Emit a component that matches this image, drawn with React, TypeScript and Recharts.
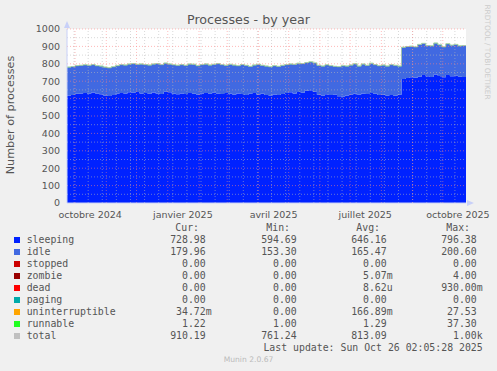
import React from 'react';
import { ComposedChart, Area, Line, XAxis, YAxis, CartesianGrid, ReferenceLine } from 'recharts';

// one sample every 4 days, starting 2024-09-23
const sleeping = [
    618, 620, 628, 630, 632, 628, 635, 630, 625, 618, 615, 620, 628, 632, 630, 636, 634, 638, 630, 632,
    628, 635, 630, 626, 640, 636, 628, 625, 630, 626, 632, 628, 624, 630, 632, 628, 634, 630, 626, 632,
    628, 624, 630, 626, 620, 628, 632, 624, 628, 620, 618, 624, 620, 626, 632, 636, 630, 638, 634, 645,
    648, 640, 622, 618, 625, 620, 624, 614, 612, 618, 622, 628, 624, 630, 626, 632, 628, 620, 622, 618,
    620, 616, 622, 712, 718, 722, 720, 726, 735, 728, 724, 738, 730, 722, 736, 728, 732, 726, 724, 728,
];
const idle = [
    162, 163, 160, 160, 161, 162, 159, 158, 161, 162, 161, 162, 160, 162, 162, 162, 166, 158, 168, 162,
    164, 163, 170, 168, 163, 162, 165, 165, 164, 164, 166, 168, 164, 164, 166, 164, 162, 170, 168, 158,
    168, 168, 158, 168, 170, 156, 160, 172, 162, 166, 164, 164, 164, 164, 162, 162, 166, 164, 166, 161,
    162, 164, 168, 168, 168, 168, 160, 168, 176, 168, 170, 171, 162, 168, 164, 170, 166, 168, 170, 168,
    174, 174, 164, 182, 180, 178, 176, 184, 181, 176, 178, 180, 178, 174, 178, 178, 178, 176, 180, 172,
];
const runnable = [
    1.3, 1.2, 1.4, 1.3, 1.2, 1.3, 1.5, 1.2, 1.3, 1.4, 1.2, 1.3, 1.3, 1.2, 1.4, 1.3, 1.2, 1.3, 1.5, 1.3,
    1.2, 1.3, 1.4, 1.2, 1.3, 1.3, 1.2, 1.4, 1.3, 1.2, 1.3, 1.5, 1.2, 1.3, 1.4, 1.2, 1.3, 1.3, 1.2, 1.4,
    1.3, 1.2, 1.3, 1.5, 1.2, 1.3, 1.4, 1.2, 1.3, 1.3, 1.2, 1.4, 1.3, 1.2, 1.3, 1.5, 1.2, 1.3, 1.4, 1.2,
    1.3, 1.3, 1.2, 1.4, 1.3, 1.2, 1.3, 1.5, 1.2, 1.3, 1.4, 1.2, 1.3, 1.3, 1.2, 1.4, 1.3, 1.2, 1.3, 1.5,
    1.2, 1.3, 1.4, 1.2, 1.3, 1.3, 1.2, 1.4, 1.3, 1.2, 1.3, 1.5, 1.2, 1.3, 1.4, 1.2, 1.3, 1.3, 1.2, 1.2,
];

const seriesNames = ['sleeping', 'idle', 'stopped', 'zombie', 'dead', 'paging', 'uninterruptible', 'runnable', 'total'];
const seriesColors = ['#0022ff', '#4169e1', '#cc0000', '#990000', '#ff0000', '#00aaaa', '#ffa500', '#22ff22', '#c0c0c0'];
const curValues = ['728.98', '179.96', '0.00', '0.00', '0.00', '0.00', '34.72m', '1.22', '910.19'];
const minValues = ['594.69', '153.30', '0.00', '0.00', '0.00', '0.00', '0.00', '1.00', '761.24'];
const avgValues = ['646.16', '165.47', '0.00', '5.07m', '8.62u', '0.00', '166.89m', '1.29', '813.09'];
const maxValues = ['796.38', '200.60', '0.00', '4.00', '930.00m', '0.00', '27.53', '37.30', '1.00k'];
const columnHeads = ['Cur:', 'Min:', 'Avg:', 'Max:'];

const yTicks = [0, 100, 200, 300, 400, 500, 600, 700, 800, 900, 1000];
const xLabels = ['octobre 2024', 'janvier 2025', 'avril 2025', 'juillet 2025', 'octobre 2025'];
const xLabelMonths: [number, number][] = [[2024, 9], [2025, 0], [2025, 3], [2025, 6], [2025, 9]];

const DAY = 86400000;
const START = Date.UTC(2024, 8, 23);
const dayOf = (y: number, m: number, d: number) => Math.round((Date.UTC(y, m, d) - START) / DAY);
const LAST_DAY = (sleeping.length - 1) * 4;

const data = sleeping.map((s, i) => ({
    day: i * 4,
    sleeping: s,
    idle: idle[i],
    runnable: runnable[i],
    total: s + idle[i] + runnable[i],
}));

// grid: red at each month start, grey every two weeks
const monthStarts: number[] = [];
for (let k = 0; k < 14; k++) {
    const d = dayOf(2024, 9 + k, 1);
    if (d <= LAST_DAY) monthStarts.push(d);
}
const weekLines: number[] = [];
for (let d = 7; d <= LAST_DAY; d += 14) weekLines.push(d);

const labelDays = xLabelMonths.map(([y, m]) => dayOf(y, m, 16));
const labelFor = (v: number) => xLabels[labelDays.indexOf(v)] ?? '';

const mono = '"DejaVu Sans Mono", monospace';
const sans = '"DejaVu Sans", sans-serif';
const textGrey = '#555555';
const majorGrid = '#ff8080';
const minorGrid = '#b8b8b8';

const colEdges = [205.7, 296.7, 386.7, 476.7];
const rowY = (r: number) => 239.7 + r * 12;

const ValueCell: React.FC<{ value: string; edge: number; y: number }> = ({ value, edge, y }) => {
    const m = value.match(/^([\d.]+)([a-zA-Z]?)$/);
    const num = m ? m[1] : value;
    const unit = m ? m[2] : '';
    return (
        <>
            <div style={{ position: 'absolute', right: 497 - edge, top: y - 6, lineHeight: '12px', whiteSpace: 'pre' }}>{num}</div>
            {unit && (
                <div style={{ position: 'absolute', left: edge, top: y - 6, lineHeight: '12px' }}>{unit}</div>
            )}
        </>
    );
};

export default function App() {
    const columns = [curValues, minValues, avgValues, maxValues];
    return (
        <div style={{ position: 'absolute', left: 0, top: 0, width: 497, height: 371, background: '#f0f0f0', overflow: 'hidden' }}>
            <ComposedChart width={497} height={371} data={data} margin={{ top: 29, right: 31, bottom: 148, left: 27 }}>
                <CartesianGrid horizontal={false} vertical={false} fill="#ffffff" />
                <XAxis
                    dataKey="day"
                    type="number"
                    domain={[0, LAST_DAY]}
                    ticks={labelDays}
                    tickFormatter={labelFor}
                    height={20}
                    tickLine={false}
                    tickSize={0}
                    tickMargin={8}
                    axisLine={{ stroke: '#c8d0f8' }}
                    tick={{ fill: textGrey, fontSize: 9.5, fontFamily: sans }}
                    allowDataOverflow
                />
                <YAxis
                    type="number"
                    domain={[0, 1000]}
                    ticks={yTicks}
                    width={40}
                    tickLine={false}
                    tickSize={0}
                    tickMargin={7}
                    axisLine={{ stroke: '#c8d0f8' }}
                    tick={{ fill: textGrey, fontSize: 9.5, fontFamily: sans }}
                    interval={0}
                />
                <Area type="stepAfter" dataKey="sleeping" stackId="a" stroke="none" fill="#0022ff" fillOpacity={1} isAnimationActive={false} />
                <Area type="stepAfter" dataKey="idle" stackId="a" stroke="none" fill="#4169e1" fillOpacity={1} isAnimationActive={false} />
                <Area type="stepAfter" dataKey="runnable" stackId="a" stroke="#22ff22" strokeOpacity={0.4} strokeWidth={1} fill="#22ff22" fillOpacity={0.5} isAnimationActive={false} />
                <Line type="stepAfter" dataKey="total" stroke="#b8b8b8" strokeOpacity={0.7} strokeWidth={1} dot={false} isAnimationActive={false} />
                {yTicks.slice(0, -1).map(v => (
                    <ReferenceLine key={'hm' + v} y={v + 50} stroke={minorGrid} strokeOpacity={0.55} strokeDasharray="1 2" />
                ))}
                {weekLines.map(d => (
                    <ReferenceLine key={'w' + d} x={d} stroke={minorGrid} strokeOpacity={0.55} strokeDasharray="1 2" />
                ))}
                {yTicks.slice(1).map(v => (
                    <ReferenceLine key={'h' + v} y={v} stroke={majorGrid} strokeOpacity={0.55} strokeDasharray="1 2" />
                ))}
                {monthStarts.map(d => (
                    <ReferenceLine key={'m' + d} x={d} stroke={majorGrid} strokeOpacity={0.5} strokeDasharray="1 2" />
                ))}
            </ComposedChart>

            <svg width={497} height={371} style={{ position: 'absolute', left: 0, top: 0, pointerEvents: 'none' }}>
                <polygon points="64,28 70,28 67,21" fill="#c8d0f8" />
                <polygon points="467,200 467,206 474,203" fill="#c8d0f8" />
            </svg>

            <div style={{ position: 'absolute', left: 0, width: 497, top: 11, textAlign: 'center', fontFamily: sans, fontSize: 12.7, color: textGrey, lineHeight: '18px' }}>
                Processes - by year
            </div>
            <div style={{ position: 'absolute', left: 11 - 70, top: 115 - 8, width: 140, textAlign: 'center', fontFamily: sans, fontSize: 11.2, color: textGrey, lineHeight: '16px', transform: 'rotate(-90deg)' }}>
                Number of processes
            </div>
            <div style={{ position: 'absolute', left: 487 - 60, top: 52 - 5, width: 120, textAlign: 'center', fontFamily: sans, fontSize: 7.4, color: '#cccccc', lineHeight: '10px', transform: 'rotate(90deg)' }}>
                RRDTOOL / TOBI OETIKER
            </div>

            <div style={{ position: 'absolute', left: 0, top: 0, width: 497, height: 371, fontFamily: mono, fontSize: 9.85, color: textGrey }}>
                {columnHeads.map((h, c) => (
                    <div key={h} style={{ position: 'absolute', right: 497 - (colEdges[c] - 6.7), top: 228.3 - 6, lineHeight: '12px' }}>{h}</div>
                ))}
                {seriesNames.map((name, r) => (
                    <React.Fragment key={name}>
                        <div style={{ position: 'absolute', left: 14, top: rowY(r) - 3, width: 6, height: 6, background: seriesColors[r] }} />
                        <div style={{ position: 'absolute', left: 26.7, top: rowY(r) - 6, lineHeight: '12px' }}>{name}</div>
                        {columns.map((col, c) => (
                            <ValueCell key={c} value={col[r]} edge={colEdges[c]} y={rowY(r)} />
                        ))}
                    </React.Fragment>
                ))}
                <div style={{ position: 'absolute', right: 497 - 482.7, top: 347.7 - 6, lineHeight: '12px', whiteSpace: 'pre' }}>
                    Last update: Sun Oct 26 02:05:28 2025
                </div>
            </div>

            <div style={{ position: 'absolute', left: 0, width: 497, top: 355, textAlign: 'center', fontFamily: sans, fontSize: 7.6, color: '#bbbbbb', lineHeight: '10px' }}>
                Munin 2.0.67
            </div>
        </div>
    );
}
